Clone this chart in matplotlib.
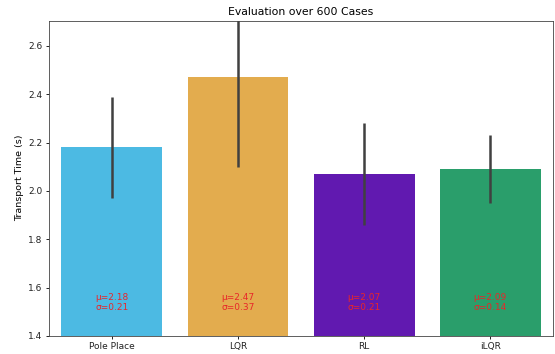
import numpy as np
import matplotlib
matplotlib.use("Agg")
import matplotlib.pyplot as plt

methods = ["Pole Place", "LQR", "RL", "iLQR"]
means = [2.18, 2.47, 2.07, 2.09]
stds = [0.21, 0.37, 0.21, 0.14]
colors = ["#4cbae3", "#e3ac4e", "#6119b0", "#2a9e6b"]

fig, ax = plt.subplots(figsize=(5.55, 3.54), dpi=100)
fig.subplots_adjust(left=0.088, right=0.997, top=0.942, bottom=0.051)

x = np.arange(len(methods))
ax.bar(x, means, width=0.8, color=colors)
ax.errorbar(x, means, yerr=stds, fmt="none", ecolor="#404040", elinewidth=1.8, capsize=0)

for xi, m, s in zip(x, means, stds):
    ax.text(xi, 1.537, f"μ={m:.2f}\nσ={s:.2f}", ha="center", va="center",
            color="#e8262a", fontsize=6.5, linespacing=1.15)

ax.set_xlim(-0.5, 3.5)
ax.set_ylim(1.4, 2.705)
ax.set_xticks(x)
ax.set_xticklabels(methods)
ax.set_ylabel("Transport Time (s)", fontsize=6.8, labelpad=3)
ax.set_title("Evaluation over 600 Cases", fontsize=7.8, pad=4)
ax.tick_params(labelsize=6.5, length=2.5, width=0.6, pad=2, labelcolor="#222")
for sp in ax.spines.values():
    sp.set_linewidth(0.6)
    sp.set_color("#444")

plt.savefig("out.png", dpi=100)
plt.close()
